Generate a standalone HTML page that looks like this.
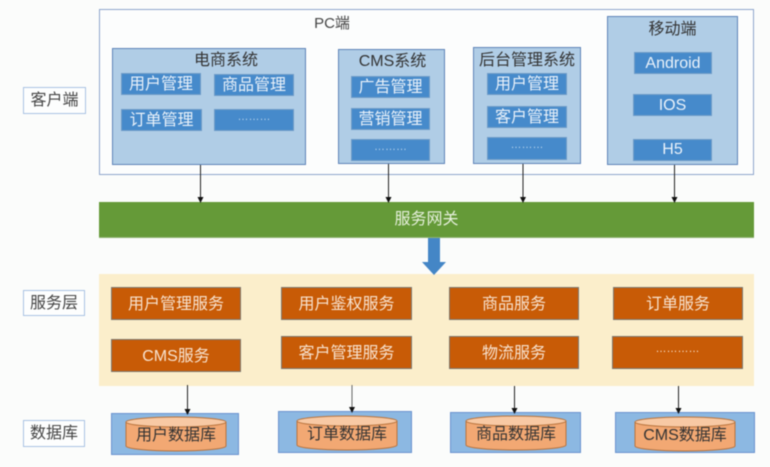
<!DOCTYPE html>
<html><head><meta charset="utf-8"><style>
html,body{margin:0;padding:0;background:#fbfcfb}
#c{position:relative;width:770px;height:467px;overflow:hidden;background:#fbfcfb;font-family:"Liberation Sans","Noto Sans CJK SC",sans-serif;filter:blur(.5px)}
#c div{position:absolute;box-sizing:border-box;text-align:center;white-space:nowrap}
.o{border:1px solid #8fa5cc;background:#fcfdfd}
.g{border:1px solid #5f84b8;background:#b0cde6;color:#333;font-size:16px;line-height:24px}
.b{background:#468acb;border:1px solid #6f9cc8;color:#eaf2fa;font-size:16px;line-height:21px}
.r{background:#c85b06;border:1px solid #7b7670;color:#f8e3d0;font-size:16px;line-height:33px}
.l{border:1.5px solid #a9c3e3;background:#fdfefe;color:#444;font-size:16px;line-height:25px}
.d{background:#8cb8e2;border:1px solid #6b93cf}
.t{color:#333;font-size:16px}
.x{font-size:11px!important;color:#b9d3ec!important}
</style></head><body><div id="c">
<div class="o" style="left:99px;top:9px;width:655px;height:166px"></div>
<div class="t" style="left:299px;top:14px;width:66px;font-size:15px;line-height:20px;color:#444">PC端</div>

<div class="g" style="left:112px;top:48px;width:194px;height:117px;padding-left:34px">电商系统</div>
<div class="b" style="left:121px;top:73px;width:80px;height:22px">用户管理</div>
<div class="b" style="left:214px;top:74px;width:80px;height:22px">商品管理</div>
<div class="b" style="left:121px;top:109px;width:81px;height:22px">订单管理</div>
<div class="b x" style="left:214px;top:109px;width:80px;height:22px;line-height:15px">………</div>

<div class="g" style="left:338px;top:49px;width:107px;height:115px;padding-left:2px">CMS系统</div>
<div class="b" style="left:351px;top:76px;width:79px;height:22px">广告管理</div>
<div class="b" style="left:351px;top:108px;width:79px;height:22px">营销管理</div>
<div class="b x" style="left:351px;top:139px;width:79px;height:22px;line-height:15px">………</div>

<div class="g" style="left:473px;top:47px;width:108px;height:117px;line-height:26px">后台管理系统</div>
<div class="b" style="left:487px;top:73px;width:80px;height:22px">用户管理</div>
<div class="b" style="left:487px;top:106px;width:80px;height:22px">客户管理</div>
<div class="b x" style="left:487px;top:137px;width:80px;height:23px;line-height:15px">………</div>

<div class="g" style="left:607px;top:16px;width:131px;height:149px;line-height:26px;padding-left:0">移动端</div>
<div class="b" style="left:634px;top:52px;width:78px;height:22px;line-height:22px">Android</div>
<div class="b" style="left:633px;top:94px;width:79px;height:22px;line-height:21px">IOS</div>
<div class="b" style="left:633px;top:139px;width:79px;height:22px;line-height:19px">H5</div>

<div style="left:99px;top:202px;width:655px;height:36px;background:#659a38;border-bottom:1px solid #8fb372;color:#e6f0dc;font-size:16px;line-height:35px;padding-right:0">服务网关</div>

<div style="left:99px;top:274px;width:655px;height:112px;background:#fbeecb"></div>
<div class="r" style="left:111px;top:287px;width:130px;height:33px">用户管理服务</div>
<div class="r" style="left:111px;top:339px;width:130px;height:33px">CMS服务</div>
<div class="r" style="left:281px;top:287px;width:131px;height:33px">用户鉴权服务</div>
<div class="r" style="left:281px;top:336px;width:131px;height:33px">客户管理服务</div>
<div class="r" style="left:449px;top:287px;width:130px;height:33px">商品服务</div>
<div class="r" style="left:449px;top:336px;width:130px;height:33px">物流服务</div>
<div class="r" style="left:613px;top:287px;width:130px;height:33px">订单服务</div>
<div class="r" style="left:612px;top:336px;width:131px;height:33px;font-size:11px;line-height:24px">…………</div>

<div class="l" style="left:23px;top:87px;width:63px;height:27px">客户端</div>
<div class="l" style="left:23px;top:290px;width:62px;height:26px">服务层</div>
<div class="l" style="left:23px;top:420px;width:62px;height:27px">数据库</div>

<div class="d" style="left:111px;top:413px;width:128px;height:42px"></div>
<div class="d" style="left:278px;top:411px;width:134px;height:42px"></div>
<div class="d" style="left:450px;top:412px;width:131px;height:41px"></div>
<div class="d" style="left:615px;top:412px;width:140px;height:41px"></div>

<svg width="770" height="467" style="position:absolute;left:0;top:0">
<defs><g id="cy">
<path d="M0 5 V29 A50 5 0 0 0 100 29 V5" fill="#f2a873" stroke="#b8733c" stroke-width="1"/>
<ellipse cx="50" cy="5" rx="50" ry="5" fill="#f8c9a4" stroke="#b8733c" stroke-width="1"/>
</g>
<marker id="a" markerWidth="6" markerHeight="6" refX="5" refY="3" orient="auto" markerUnits="userSpaceOnUse"><path d="M0 0L6 3L0 6Z" fill="#111"/></marker></defs>
<use href="#cy" x="126" y="417"/><use href="#cy" x="297" y="416"/><use href="#cy" x="466" y="416"/><use href="#cy" x="635" y="417"/>
<g stroke="#222" stroke-width="1">
<line x1="200.5" y1="165" x2="200.5" y2="202" marker-end="url(#a)"/>
<line x1="388.5" y1="164" x2="388.5" y2="202" marker-end="url(#a)"/>
<line x1="523" y1="164" x2="523" y2="202" marker-end="url(#a)"/>
<line x1="674.5" y1="165" x2="674.5" y2="202" marker-end="url(#a)"/>
<line x1="187.5" y1="385" x2="187.5" y2="414" marker-end="url(#a)"/>
<line x1="352" y1="385" x2="352" y2="412" stroke="#666" marker-end="url(#a)"/>
<line x1="514.5" y1="386" x2="514.5" y2="413" marker-end="url(#a)"/>
<line x1="678.5" y1="386" x2="678.5" y2="413" marker-end="url(#a)"/>
</g>
<path d="M428 238H440V262H446L434 275L422 262H428Z" fill="#4486c6"/>
</svg>
<div class="t" style="left:126px;top:425px;width:100px;line-height:22px">用户数据库</div>
<div class="t" style="left:297px;top:424px;width:100px;line-height:22px">订单数据库</div>
<div class="t" style="left:466px;top:424px;width:100px;line-height:22px">商品数据库</div>
<div class="t" style="left:635px;top:425px;width:100px;line-height:22px">CMS数据库</div>
</div></body></html>
